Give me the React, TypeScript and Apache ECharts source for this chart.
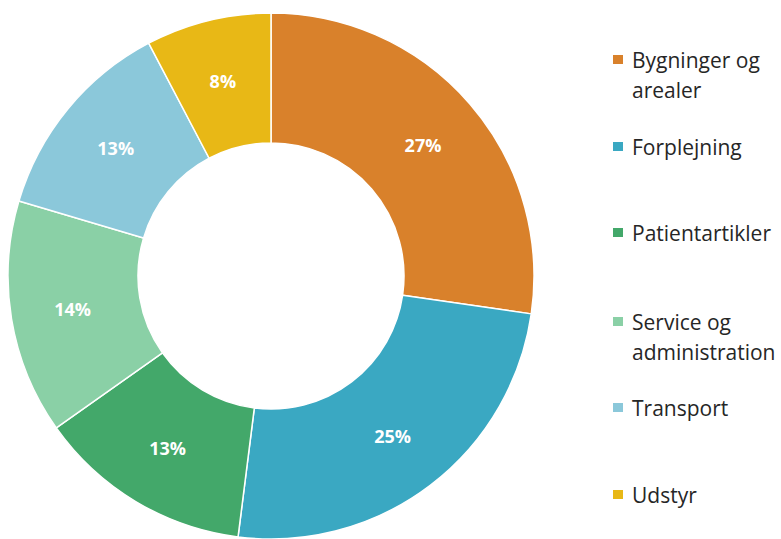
import React, { useEffect, useRef } from "react";
import * as echarts from "echarts";

const categories = [
  "Bygninger og arealer",
  "Forplejning",
  "Patientartikler",
  "Service og administration",
  "Transport",
  "Udstyr",
];
const values = [27.3, 24.7, 13.2, 14.4, 12.7, 7.7];
const legendLabels = [
  "Bygninger og\narealer",
  "Forplejning",
  "Patientartikler",
  "Service og\nadministration",
  "Transport",
  "Udstyr",
];
const colors = ["#D9812B", "#3AA8C2", "#43A86A", "#8AD0A6", "#8BC8DA", "#E8B816"];
const legendCenters = [59.5, 146.5, 232.5, 321.5, 407.5, 494.5];

const FONT = "'Open Sans'";
const LINE_H = 30;

export default function App() {
  const ref = useRef<HTMLDivElement>(null);
  useEffect(() => {
    if (!ref.current) return;
    const chart = echarts.init(ref.current, null, { renderer: "svg" });
    const legends = categories.map((name, i) => {
      const lines = legendLabels[i].split("\n").length;
      const text = "\n".repeat(lines - 1) + legendLabels[i];
      const totalLines = 2 * lines - 1;
      return {
        show: true,
        data: [name],
        left: 611,
        top: legendCenters[i] - (totalLines * LINE_H) / 2,
        padding: 0,
        itemWidth: 12,
        itemHeight: 11,
        icon: "rect",
        selectedMode: false,
        formatter: () => text,
        textStyle: {
          fontFamily: FONT,
          fontSize: 21,
          lineHeight: LINE_H,
          color: "#262626",
          padding: [0, 0, 0, 3],
        },
      };
    });
    chart.setOption({
      animation: false,
      color: colors,
      legend: legends,
      series: [
        {
          type: "pie",
          radius: [133, 263],
          center: [271, 276],
          startAngle: 90,
          clockwise: true,
          avoidLabelOverlap: false,
          data: categories.map((name, i) => ({ name, value: values[i] })),
          itemStyle: { borderColor: "#ffffff", borderWidth: 1.5 },
          label: {
            show: true,
            position: "inside",
            formatter: (p: any) => Math.round(p.percent) + "%",
            color: "#ffffff",
            fontFamily: FONT,
            fontWeight: "bold",
            fontSize: 18,
          },
          labelLine: { show: false },
          emphasis: { disabled: true },
        },
      ],
    });
    return () => chart.dispose();
  }, []);
  return (
    <div
      ref={ref}
      style={{ position: "absolute", left: 0, top: 0, width: 781, height: 539 }}
    />
  );
}
